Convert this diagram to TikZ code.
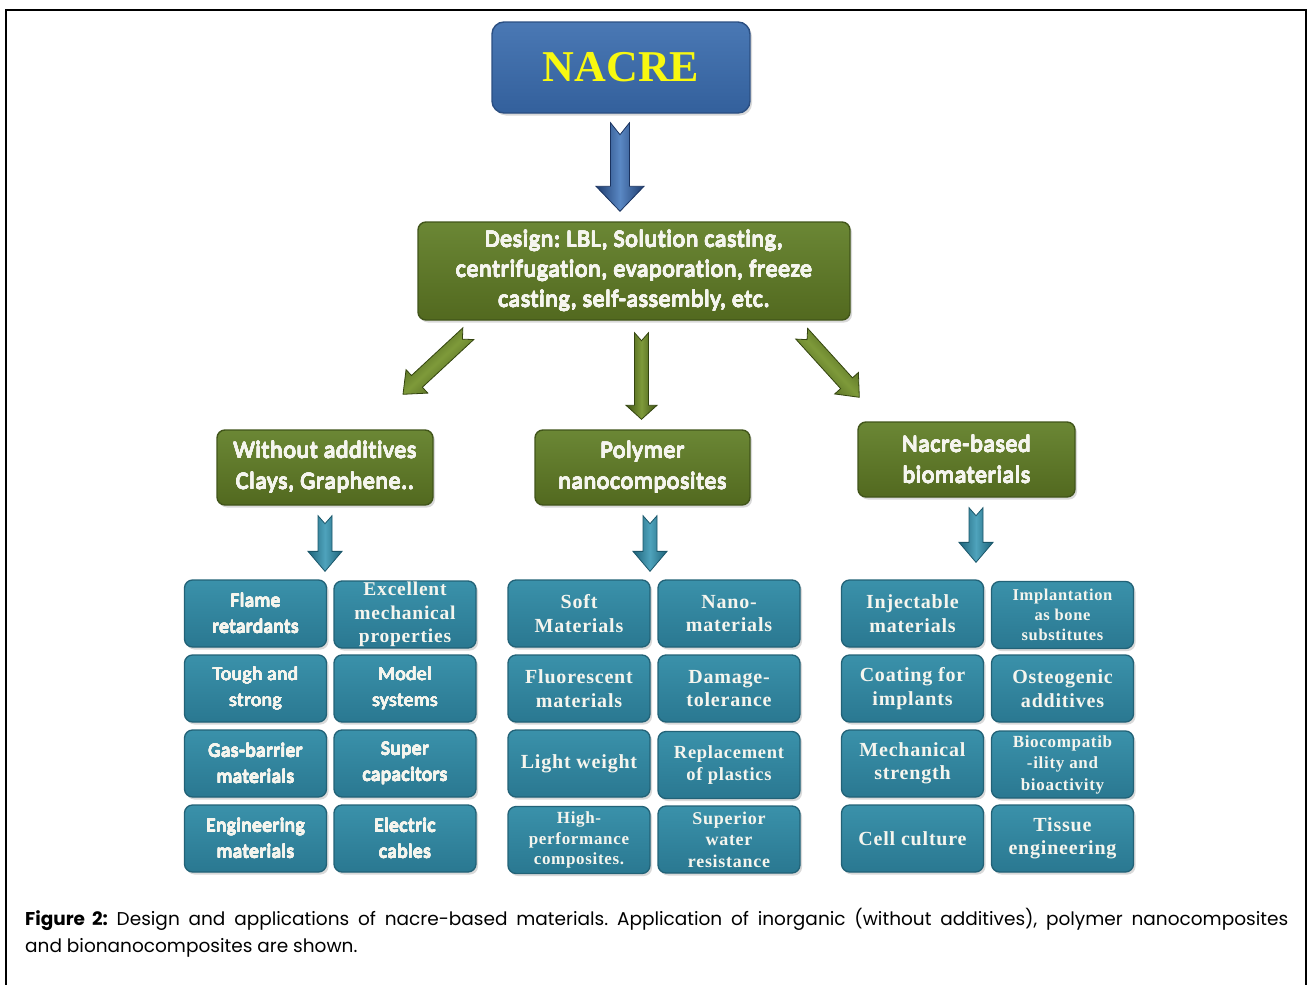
\documentclass[tikz,border=0pt]{standalone}
\usepackage{fontspec}
\usepackage{contour}
\setmainfont{Liberation Serif}
\newfontfamily\calfont[Ligatures=NoCommon,LetterSpace=2.5]{Carlito}
\newfontfamily\sercell[LetterSpace=4]{Liberation Serif}
\newfontfamily\capfont{Poppins}
\usetikzlibrary{calc,shadows}

\definecolor{nacretop}{HTML}{4A78B4}
\definecolor{nacrebot}{HTML}{33609C}
\definecolor{nacreedge}{HTML}{2B4F82}
\definecolor{nacretext}{HTML}{F8F810}
\definecolor{greentop}{HTML}{6B8735}
\definecolor{greenbot}{HTML}{52691F}
\definecolor{greenedge}{HTML}{41551A}
\definecolor{celltop}{HTML}{3A91AA}
\definecolor{cellbot}{HTML}{2A7891}
\definecolor{celledge}{HTML}{226277}
\definecolor{boxtext}{HTML}{F5F5EE}
\definecolor{barside}{HTML}{1E3C6E}
\definecolor{barmid}{HTML}{5A88C4}
\definecolor{baredge}{HTML}{1A3360}
\definecolor{garside}{HTML}{3E5214}
\definecolor{garmid}{HTML}{7E9A3A}
\definecolor{garedge}{HTML}{33440F}
\definecolor{tarside}{HTML}{1E6379}
\definecolor{tarmid}{HTML}{4FA3BC}
\definecolor{taredge}{HTML}{1A566A}

% heavy sans text: the regular face thickened by a thin contour
\contourlength{0.35pt}
\contournumber{16}
\newcommand\hv[1]{\contour{boxtext}{#1}}

% block arrow with a notched tail:
% #1 style, #2 tail, #3 tip, #4 half shaft width, #5 half head width,
% #6 head length, #7 notch depth
\newcommand\blkarrow[7]{%
  \coordinate (h-#2-#3) at ($(#3)!#6!(#2)$);
  \path[#1] ($(#2)!#4!90:(#3)$) -- ($(h-#2-#3)!#4!90:(#3)$)
    -- ($(h-#2-#3)!#5!90:(#3)$) -- (#3)
    -- ($(h-#2-#3)!#5!-90:(#3)$) -- ($(h-#2-#3)!#4!-90:(#3)$)
    -- ($(#2)!#4!-90:(#3)$) -- ($(#2)!#7!(#3)$) -- cycle;
}

\begin{document}
\frenchspacing
\begin{tikzpicture}[x=1pt,y=-1pt,
  box/.style={rounded corners=8pt, inner sep=0pt, align=center,
    drop shadow={opacity=0.3,shadow xshift=2pt,shadow yshift=-2.5pt}},
  nacrebox/.style={box, draw=nacreedge, line width=1.4pt,
    top color=nacretop, bottom color=nacrebot, text=nacretext,
    minimum width=258pt, minimum height=91pt, rounded corners=12pt,
    font=\bfseries\fontsize{44}{50}\selectfont},
  greenbox/.style={box, draw=greenedge, line width=1.4pt,
    top color=greentop, bottom color=greenbot, text=boxtext,
    minimum width=216pt, minimum height=75pt,
    font=\calfont\fontsize{24}{31}\selectfont},
  cellbox/.style={box, draw=celledge, line width=1.3pt,
    top color=celltop, bottom color=cellbot, text=boxtext,
    minimum width=142pt, minimum height=67pt},
  sanscell/.style={cellbox, font=\calfont\fontsize{19.5}{26}\selectfont},
  serifcell/.style={cellbox, font=\sercell\bfseries\fontsize{20}{23.5}\selectfont},
  bluearrow/.style={draw=baredge, line width=0.8pt,
    left color=barside, right color=barside, middle color=barmid},
  greenarrow/.style={draw=garedge, line width=0.8pt,
    left color=garside, right color=garside, middle color=garmid},
  tealarrow/.style={draw=taredge, line width=0.8pt,
    left color=tarside, right color=tarside, middle color=tarmid},
  captext/.style={anchor=base west, inner sep=0pt, font=\capfont\fontsize{18.5}{27}\selectfont},
]
\useasboundingbox (0,0) rectangle (1309,985);

% page frame, open at the bottom
\draw[line width=2.6pt, black] (6,985) -- (6,10) -- (1306,10) -- (1306,985);

% top and design boxes
\node[nacrebox] (nacre) at (621,67.5) {NACRE};
\node[greenbox, minimum width=432pt, minimum height=98pt,
      font=\calfont\fontsize{24}{30}\selectfont]
  (design) at (634,271)
  {\hv{Design: LBL, Solution casting,}\\\hv{centrifugation, evaporation, freeze}\\\hv{casting, self-assembly, etc.}};

% material classes
\node[greenbox] (wa)   at (325,467.5) {\hv{Without additives}\\\hv{Clays, Graphene..}};
\node[greenbox, minimum width=215pt] (poly) at (642.5,467.5) {\hv{Polymer}\\\hv{nanocomposites}};
\node[greenbox, minimum width=217pt] (bio)  at (966.5,459.5) {\hv{Nacre-based}\\\hv{biomaterials}};

% applications: inorganic
\node[sanscell] (l11) at (255.5,613.5) {\hv{Flame}\\\hv{retardants}};
\node[serifcell, font=\sercell\bfseries\fontsize{19.5}{23.5}\selectfont] (l12) at (405,614.5) {Excellent\\mechanical\\properties};
\node[sanscell] (l21) at (255.5,688.5) {\hv{Tough and}\\\hv{strong}};
\node[sanscell] (l22) at (405,688.5) {\hv{Model}\\\hv{systems}};
\node[sanscell] (l31) at (255.5,763.5) {\hv{Gas-barrier}\\\hv{materials}};
\node[sanscell] (l32) at (405,763.5) {\hv{Super}\\\hv{capacitors}};
\node[sanscell] (l41) at (255.5,838.5) {\hv{Engineering}\\\hv{materials}};
\node[sanscell] (l42) at (405,838.5) {\hv{Electric}\\\hv{cables}};

% applications: polymer nanocomposites
\node[serifcell] (m11) at (579,613.5) {Soft\\Materials};
\node[serifcell] (m12) at (729,613.5) {Nano-\\materials};
\node[serifcell] (m21) at (579,688.5) {Fluorescent\\materials};
\node[serifcell] (m22) at (729,688.5) {Damage-\\tolerance};
\node[serifcell] (m31) at (579,763.5) {Light weight};
\node[serifcell, font=\sercell\bfseries\fontsize{18.5}{21.5}\selectfont] (m32) at (729,765) {Replacement\\of plastics};
\node[serifcell, font=\sercell\bfseries\fontsize{17}{20.5}\selectfont] (m41) at (579,840) {High-\\performance\\composites.};
\node[serifcell, font=\sercell\bfseries\fontsize{18}{21.5}\selectfont] (m42) at (729,839.5) {Superior\\water\\resistance};

% applications: biomaterials
\node[serifcell] (r11) at (912.5,613.5) {Injectable\\materials};
\node[serifcell, font=\sercell\bfseries\fontsize{16.5}{20}\selectfont] (r12) at (1062.5,615) {Implantation\\as bone\\substitutes};
\node[serifcell] (r21) at (912.5,688.5) {Coating for\\implants};
\node[serifcell] (r22) at (1062.5,688.5) {Osteogenic\\additives};
\node[serifcell] (r31) at (912.5,763.5) {Mechanical\\strength};
\node[serifcell, font=\sercell\bfseries\fontsize{17}{21.5}\selectfont] (r32) at (1062.5,764.5) {Biocompatib\\-ility and\\bioactivity};
\node[serifcell] (r41) at (912.5,838.5) {Cell culture};
\node[serifcell] (r42) at (1062.5,838.5) {Tissue\\engineering};

% arrow end points
\coordinate (a1s) at ($(nacre.south)+(-1,9)$);
\coordinate (a1e) at ($(nacre.south |- design.north)+(-1,-10)$);
\coordinate (a2s) at ($(design.south west)+(51,13)$);
\coordinate (a2e) at ($(wa.north)+(78,-35)$);
\coordinate (a3s) at ($(poly.north |- design.south)+(-1,12)$);
\coordinate (a3e) at ($(poly.north)+(-1,-10)$);
\coordinate (a4s) at ($(design.south east)+(-49,13)$);
\coordinate (a4e) at ($(bio.north west)+(2,-24)$);
\coordinate (b1s) at ($(wa.south)+(0,10)$);
\coordinate (b1e) at ($(wa.south |- l11.north)+(0,-8)$);
\coordinate (b2s) at ($(poly.south)+(7.5,10)$);
\coordinate (b2e) at ($(b2s |- m11.north)+(0,-8)$);
\coordinate (b3s) at ($(bio.south)+(9.5,10)$);
\coordinate (b3e) at ($(b3s |- r11.north)+(0,-17)$);

% block arrows
\blkarrow{bluearrow}{a1s}{a1e}{9.5pt}{24pt}{25pt}{12pt}
\blkarrow{greenarrow, shading angle=43}{a2s}{a2e}{8pt}{16pt}{19pt}{8pt}
\blkarrow{greenarrow}{a3s}{a3e}{7pt}{15.5pt}{14pt}{8pt}
\blkarrow{greenarrow, shading angle=-47}{a4s}{a4e}{8pt}{16pt}{19pt}{8pt}
\blkarrow{tealarrow}{b1s}{b1e}{7pt}{17pt}{20pt}{8pt}
\blkarrow{tealarrow}{b2s}{b2e}{7pt}{17pt}{20pt}{8pt}
\blkarrow{tealarrow}{b3s}{b3e}{7pt}{17pt}{20pt}{8pt}

% caption
\node[captext] (cap1) at (25,925)
  {\makebox[1263pt][s]{\textbf{Figure 2:} Design and applications of nacre-based materials. Application of inorganic (without additives), polymer nanocomposites}};
\node[captext] (cap2) at (25,952) {and bionanocomposites are shown.};
\end{tikzpicture}
\end{document}
